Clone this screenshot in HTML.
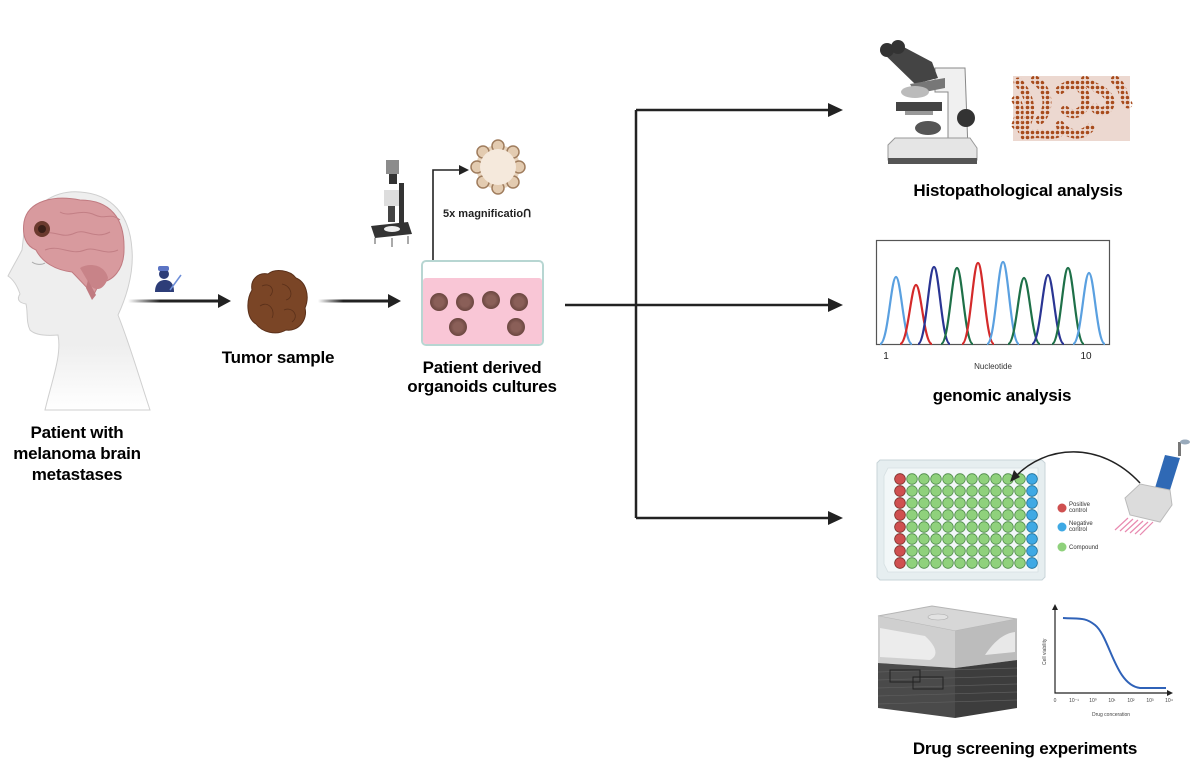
<!DOCTYPE html>
<html><head><meta charset="utf-8"><style>
html,body{margin:0;padding:0;background:#fff;}
svg{display:block}
text{font-family:"Liberation Sans",sans-serif;}
.t{font-weight:bold;font-size:17px;fill:#000;text-anchor:middle;letter-spacing:-0.2px}
</style></head><body>
<svg width="1200" height="777" viewBox="0 0 1200 777" xmlns="http://www.w3.org/2000/svg">
<defs>
<linearGradient id="fade" x1="0" x2="1"><stop offset="0" stop-color="#222" stop-opacity="0"/><stop offset="0.35" stop-color="#222"/><stop offset="1" stop-color="#222"/></linearGradient>
<linearGradient id="neck" x1="0" y1="0" x2="0" y2="1"><stop offset="0.7" stop-color="#eee"/><stop offset="1" stop-color="#fff"/></linearGradient>
<pattern id="wells" patternUnits="userSpaceOnUse" x="894" y="473" width="12" height="12"><circle cx="6" cy="6" r="5.3" fill="#8fd17c" stroke="#4e8a49" stroke-width="0.8"/></pattern>
<pattern id="cells" patternUnits="userSpaceOnUse" width="5" height="5"><circle cx="2.5" cy="2.5" r="1.8" fill="#a84b1c"/></pattern>
<radialGradient id="org"><stop offset="0.5" stop-color="#8a5f58"/><stop offset="1" stop-color="#6b4640"/></radialGradient>
</defs>

<!-- Head -->
<path d="M24 232 C30 205 55 190 80 192 C112 194 130 215 132 250 C134 275 125 300 118 315 C130 345 140 380 150 410 L45 410 C52 380 62 355 58 335 C46 336 35 335 30 330 C26 322 28 312 26 304 C20 303 16 300 20 294 C18 288 14 280 8 276 C12 268 18 258 22 250 Z" fill="url(#neck)" stroke="#cfcfcf" stroke-width="1"/>
<path d="M24 222 C28 200 55 195 80 200 C110 200 125 218 124 250 C124 270 112 282 100 282 C95 292 92 300 92 293 C85 286 80 280 72 272 C55 270 42 262 36 250 C26 246 22 236 24 222 Z" fill="#d89a9e" stroke="#c07a80" stroke-width="1"/>
<path d="M80 268 C90 262 105 265 108 278 C104 290 96 292 90 285 Z" fill="#c88388"/>
<path d="M88 280 L96 295 L92 300 L86 288 Z" fill="#c07a80"/>
<g stroke="#c27f85" stroke-width="1" fill="none"><path d="M40 235 C55 228 60 240 75 233 C85 228 95 240 110 232"/><path d="M45 250 C60 244 70 256 85 250 C95 246 105 256 118 250"/><path d="M60 212 C70 218 80 208 95 215 C105 220 110 212 120 220"/></g>
<circle cx="42" cy="229" r="8" fill="#6b3a2e"/><circle cx="42" cy="229" r="4" fill="#3a1f18"/>
<path d="M32 262 C36 265 42 265 45 263" stroke="#aaa" fill="none"/>

<!-- Surgeon -->
<circle cx="164" cy="274" r="5" fill="#2d3d78"/><rect x="158" y="266" width="11" height="5" rx="2" fill="#5b74c4"/>
<path d="M155 292 C155 283 160 280 165 280 C170 280 174 283 174 292 Z" fill="#2d3d78"/>
<line x1="170" y1="290" x2="181" y2="275" stroke="#6d8ed8" stroke-width="1.5"/>

<!-- Arrow 1 -->
<rect x="128" y="299.5" width="92" height="3" fill="url(#fade)"/><path d="M218 294 L231 301 L218 308 Z" fill="#222"/>
<!-- Tumor -->
<path d="M252 290 C250 280 258 272 268 274 C275 268 290 270 296 278 C306 282 310 296 305 308 C308 320 298 332 286 330 C276 336 262 332 256 324 C246 318 246 300 252 290 Z" fill="#7a4526" stroke="#5a301a"/>
<g fill="none" stroke="#5a301a" stroke-width="0.8"><path d="M262 286 C270 282 276 290 270 296"/><path d="M282 284 C292 286 294 298 286 300"/><path d="M260 306 C268 300 276 310 272 318"/><path d="M284 310 C292 306 300 316 292 322"/></g>
<text class="t" x="278" y="363">Tumor sample</text>

<!-- Arrow 2 -->
<rect x="318" y="299.5" width="72" height="3" fill="url(#fade)"/><path d="M388 294 L401 301 L388 308 Z" fill="#222"/>

<!-- small microscope -->
<rect x="386" y="160" width="13" height="14" fill="#8c8c8c"/><rect x="389" y="174" width="8" height="10" fill="#333"/>
<rect x="399" y="183" width="5" height="40" fill="#333"/>
<rect x="384" y="190" width="15" height="16" fill="#ddd"/><rect x="388" y="206" width="7" height="16" fill="#444"/>
<path d="M371 226 L408 222 L412 234 L375 238 Z" fill="#333"/><ellipse cx="392" cy="229" rx="8" ry="3" fill="#eee"/>
<g stroke="#555"><line x1="375" y1="238" x2="375" y2="244"/><line x1="408" y1="236" x2="408" y2="244"/><line x1="392" y1="238" x2="392" y2="247"/></g>

<!-- magnification arrow -->
<path d="M433 260 L433 170 L460 170" fill="none" stroke="#222" stroke-width="1.6"/><path d="M459 165 L469 170 L459 175 Z" fill="#222"/>
<g transform="translate(498,167)">
<circle r="22" fill="#e8d4bd"/>
<g fill="#e3cbb0" stroke="#a07d5e" stroke-width="1.5">
<circle cx="0" cy="-21" r="6"/><circle cx="15" cy="-15" r="6"/><circle cx="21" cy="0" r="6"/><circle cx="15" cy="15" r="6"/><circle cx="0" cy="21" r="6"/><circle cx="-15" cy="15" r="6"/><circle cx="-21" cy="0" r="6"/><circle cx="-15" cy="-15" r="6"/></g>
<circle r="18" fill="#f5e9dc"/>
</g>
<text x="443" y="217" font-size="11" font-weight="bold" fill="#222">5x magnificatioᑎ</text>

<!-- dish -->
<rect x="422" y="261" width="121" height="84" rx="4" fill="#fff" stroke="#b7d6d2" stroke-width="2"/>
<rect x="423" y="278" width="119" height="66" rx="3" fill="#f9c6d6"/>
<g fill="url(#org)"><circle cx="439" cy="302" r="9"/><circle cx="465" cy="302" r="9"/><circle cx="491" cy="300" r="9"/><circle cx="519" cy="302" r="9"/><circle cx="458" cy="327" r="9"/><circle cx="516" cy="327" r="9"/></g>
<text class="t" x="482" y="373">Patient derived</text>
<text class="t" x="482" y="392">organoids cultures</text>

<!-- Branch connector -->
<path d="M565 305 L830 305 M636 110 L636 518 M636 110 L830 110 M636 518 L830 518" fill="none" stroke="#222" stroke-width="2.5"/>
<path d="M828 103 L843 110 L828 117 Z M828 298 L843 305 L828 312 Z M828 511 L843 518 L828 525 Z" fill="#222"/>

<!-- big microscope -->
<path d="M935 68 L965 68 L968 150 L948 150 L948 92 L935 92 Z" fill="#f0f0f0" stroke="#888"/>
<path d="M882 52 L898 44 L932 62 L938 78 L915 84 Z" fill="#444"/>
<circle cx="887" cy="50" r="7" fill="#333"/><circle cx="898" cy="47" r="7" fill="#333"/>
<path d="M910 84 L945 78 L945 88 L915 94 Z" fill="#777"/>
<ellipse cx="915" cy="92" rx="14" ry="6" fill="#bbb"/>
<rect x="896" y="102" width="46" height="9" fill="#444"/>
<rect x="905" y="111" width="28" height="4" fill="#999"/>
<circle cx="966" cy="118" r="9" fill="#333"/>
<ellipse cx="928" cy="128" rx="13" ry="7" fill="#555"/>
<path d="M888 145 L895 138 L970 138 L977 148 L977 160 L888 160 Z" fill="#e5e5e5" stroke="#999"/>
<rect x="888" y="158" width="89" height="6" fill="#555"/>

<!-- histology image -->
<rect x="1013" y="76" width="117" height="65" fill="#ecd8d0"/>
<g fill="none" stroke="url(#cells)" stroke-width="9" stroke-linecap="round">
<path d="M1018 82 C1030 95 1035 115 1022 130 M1035 80 C1050 90 1050 110 1040 120"/>
<path d="M1060 90 C1070 82 1080 82 1085 95 C1090 108 1075 120 1065 110"/>
<path d="M1085 80 C1095 90 1105 88 1110 100 C1112 110 1100 115 1095 108"/>
<path d="M1060 125 C1068 135 1080 138 1090 128 M1115 80 C1125 88 1122 98 1128 104"/>
<path d="M1025 136 C1040 130 1050 138 1060 132 M1016 100 C1022 110 1018 120 1016 125"/>
</g>
<text class="t" x="1018" y="196">Histopathological analysis</text>

<!-- chromatogram -->
<rect x="876.5" y="240.5" width="233" height="104" fill="#fff" stroke="#555" stroke-width="1.2"/>
<g fill="none" stroke-width="2.2">
<path d="M880 344 C888 344 891 277 896 277 C901 277 904 344 912 344" stroke="#5aa0e0"/>
<path d="M900 344 C908 344 911 285 916 285 C921 285 924 344 932 344" stroke="#d42a2a"/>
<path d="M918 344 C926 344 929 267 934 267 C939 267 942 344 950 344" stroke="#2a3593"/>
<path d="M941 344 C949 344 952 268 957 268 C962 268 965 344 973 344" stroke="#1e7048"/>
<path d="M962 344 C970 344 973 263 978 263 C983 263 986 344 994 344" stroke="#d42a2a"/>
<path d="M987 344 C995 344 998 262 1003 262 C1008 262 1011 344 1019 344" stroke="#5aa0e0"/>
<path d="M1008 344 C1016 344 1019 278 1024 278 C1029 278 1032 344 1040 344" stroke="#1e7048"/>
<path d="M1032 344 C1040 344 1043 275 1048 275 C1053 275 1056 344 1064 344" stroke="#2a3593"/>
<path d="M1052 344 C1060 344 1063 268 1068 268 C1073 268 1076 344 1084 344" stroke="#1e7048"/>
<path d="M1073 344 C1081 344 1084 273 1089 273 C1094 273 1097 344 1105 344" stroke="#5aa0e0"/>
</g>
<text x="886" y="359" font-size="10" text-anchor="middle" fill="#222">1</text>
<text x="1086" y="359" font-size="10" text-anchor="middle" fill="#222">10</text>
<text x="993" y="369" font-size="8" text-anchor="middle" fill="#333">Nucleotide</text>
<text class="t" x="1002" y="401">genomic analysis</text>

<!-- plate -->
<path d="M880 460 L1042 460 L1045 463 L1045 577 L1042 580 L880 580 L877 577 L877 463 Z" fill="#e6eef0" stroke="#c8d4d8"/>
<path d="M888 468 L1038 468 L1038 572 L888 572 L884 564 L884 476 Z" fill="#f2f7f8" stroke="#d5dfe2" stroke-width="0.8"/>
<rect x="894" y="473" width="144" height="96" fill="url(#wells)"/>
<g fill="#cf5050" stroke="#8a3030" stroke-width="0.8"><circle cx="900" cy="479" r="5.3"/><circle cx="900" cy="491" r="5.3"/><circle cx="900" cy="503" r="5.3"/><circle cx="900" cy="515" r="5.3"/><circle cx="900" cy="527" r="5.3"/><circle cx="900" cy="539" r="5.3"/><circle cx="900" cy="551" r="5.3"/><circle cx="900" cy="563" r="5.3"/></g>
<g fill="#3fa9e4" stroke="#2577a8" stroke-width="0.8"><circle cx="1032" cy="479" r="5.3"/><circle cx="1032" cy="491" r="5.3"/><circle cx="1032" cy="503" r="5.3"/><circle cx="1032" cy="515" r="5.3"/><circle cx="1032" cy="527" r="5.3"/><circle cx="1032" cy="539" r="5.3"/><circle cx="1032" cy="551" r="5.3"/><circle cx="1032" cy="563" r="5.3"/></g>
<circle cx="1062" cy="508" r="4.5" fill="#cf5050"/><text x="1069" y="506" font-size="6" fill="#333">Positive</text><text x="1069" y="512" font-size="6" fill="#333">control</text>
<circle cx="1062" cy="527" r="4.5" fill="#3fa9e4"/><text x="1069" y="525" font-size="6" fill="#333">Negative</text><text x="1069" y="531" font-size="6" fill="#333">control</text>
<circle cx="1062" cy="547" r="4.5" fill="#8fd17c"/><text x="1069" y="549" font-size="6" fill="#333">Compound</text>
<path d="M1140 483 C1100 440 1045 445 1015 477" fill="none" stroke="#222" stroke-width="1.5"/>
<path d="M1010 482 L1014 470 L1020 477 Z" fill="#222"/>
<!-- pipette -->
<path d="M1165 455 L1180 458 L1170 490 L1155 488 Z" fill="#2f69b5"/>
<rect x="1178" y="442" width="3" height="14" fill="#777"/><ellipse cx="1185" cy="442" rx="5" ry="2.5" fill="#9ab"/>
<path d="M1140 484 L1170 490 L1172 505 L1160 522 L1130 515 L1125 498 Z" fill="#dcdcdc" stroke="#bbb"/>
<g stroke="#e88ab0" stroke-width="1.2"><line x1="1128" y1="518" x2="1115" y2="530"/><line x1="1133" y1="519" x2="1120" y2="531"/><line x1="1138" y1="520" x2="1125" y2="532"/><line x1="1143" y1="521" x2="1130" y2="533"/><line x1="1148" y1="522" x2="1135" y2="534"/><line x1="1153" y1="522" x2="1140" y2="535"/></g>

<!-- machine -->
<path d="M878 616 L932 606 L1017 619 L955 631 Z" fill="#d7d7d7" stroke="#b5b5b5"/>
<ellipse cx="938" cy="617" rx="10" ry="3" fill="#e2e2e2" stroke="#aaa" stroke-width="0.6"/>
<path d="M878 616 L955 631 L955 668 L878 663 Z" fill="#cfcfcf"/>
<path d="M955 631 L1017 619 L1017 660 L955 668 Z" fill="#bcbcbc"/>
<path d="M880 628 L925 636 C935 645 940 655 930 660 L880 657 Z" fill="#ececec"/>
<path d="M985 655 C995 640 1005 633 1015 632 L1015 652 Z" fill="#e8e8e8"/>
<path d="M878 663 L955 668 L955 718 L878 708 Z" fill="#4a4a4a"/>
<path d="M955 668 L1017 660 L1017 708 L955 718 Z" fill="#3d3d3d"/>
<g stroke="#5e5e5e" stroke-width="0.7"><line x1="878" y1="672" x2="1017" y2="668"/><line x1="878" y1="680" x2="1017" y2="676"/><line x1="878" y1="688" x2="1017" y2="684"/><line x1="878" y1="696" x2="1017" y2="692"/><line x1="878" y1="704" x2="1017" y2="700"/></g>
<rect x="890" y="670" width="30" height="12" fill="none" stroke="#222"/><rect x="913" y="677" width="30" height="12" fill="none" stroke="#222"/>

<!-- dose curve -->
<path d="M1055 607 L1055 693 L1170 693" fill="none" stroke="#222" stroke-width="1.2"/>
<path d="M1052 610 L1055 604 L1058 610 Z M1167 690 L1173 693 L1167 696 Z" fill="#222"/>
<path d="M1063 618 C1080 619 1085 617 1095 625 C1110 637 1115 685 1140 688 L1166 688" fill="none" stroke="#2f62b8" stroke-width="2"/>
<text x="1046" y="665" font-size="5" fill="#444" transform="rotate(-90 1046 665)">Cell viability</text>
<g font-size="5" fill="#444" text-anchor="middle"><text x="1055" y="702">0</text><text x="1074" y="702">10⁻¹</text><text x="1093" y="702">10⁰</text><text x="1112" y="702">10¹</text><text x="1131" y="702">10²</text><text x="1150" y="702">10³</text><text x="1169" y="702">10⁴</text></g>
<text x="1111" y="716" font-size="5" fill="#444" text-anchor="middle">Drug conceration</text>
<text class="t" x="1025" y="754">Drug screening experiments</text>

<text class="t" x="77" y="438">Patient with</text>
<text class="t" x="77" y="459">melanoma brain</text>
<text class="t" x="77" y="480">metastases</text>
</svg>
</body></html>
